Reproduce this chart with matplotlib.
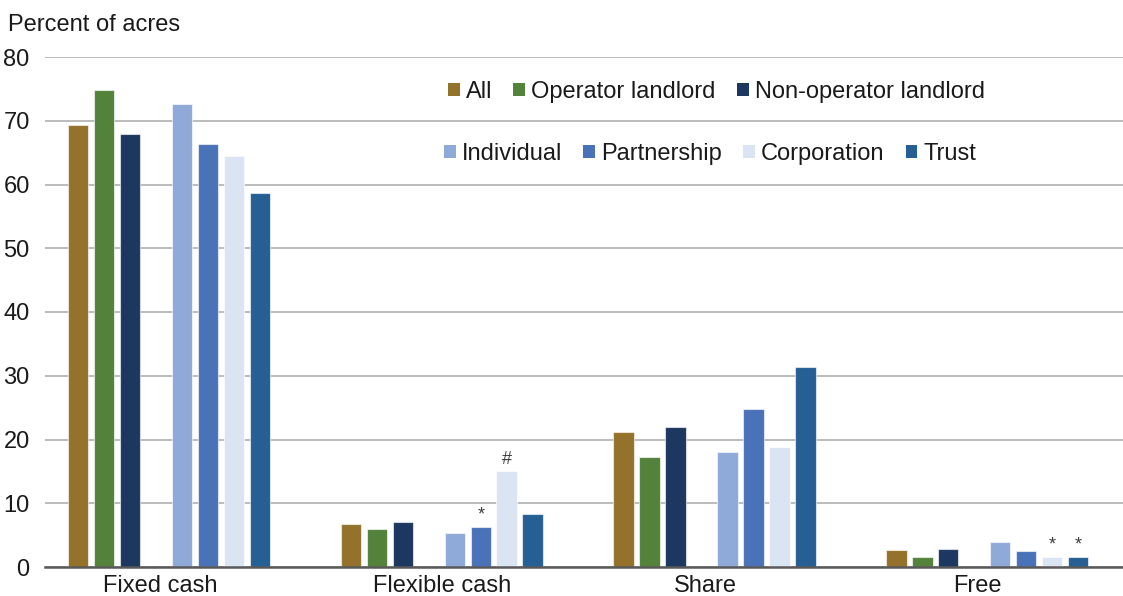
import matplotlib
matplotlib.use("Agg")
import matplotlib.pyplot as plt
import numpy as np

plt.rcParams['font.family'] = ['Liberation Sans', 'DejaVu Sans']

# data
categories = ['Fixed cash', 'Flexible cash', 'Share', 'Free']
series_names = ['All', 'Operator landlord', 'Non-operator landlord',
                'Individual', 'Partnership', 'Corporation', 'Trust']
all_vals = [69.3, 6.7, 21.1, 2.6]
operator_vals = [74.9, 5.9, 17.3, 1.6]
nonoperator_vals = [68.0, 7.0, 22.0, 2.9]
individual_vals = [72.6, 5.3, 18.0, 3.9]
partnership_vals = [66.4, 6.2, 24.8, 2.5]
corporation_vals = [64.5, 15.0, 18.9, 1.5]
trust_vals = [58.7, 8.3, 31.3, 1.5]
# footnote marks: (category index, series index, symbol)
marks = [(1, 4, '*'), (1, 5, '#'), (3, 5, '*'), (3, 6, '*')]

values = [all_vals, operator_vals, nonoperator_vals, individual_vals,
          partnership_vals, corporation_vals, trust_vals]
colors = ['#94722b', '#53823a', '#1c3760', '#8faad8', '#4a72b8', '#dae4f2', '#255f94']
slots = [0, 1, 2, 4, 5, 6, 7]   # slot 3 left empty
group_step = 10.5
bar_w = 0.79
label_shift = [-0.36, 0.0, -0.36, -0.36]  # category labels sit a bit off centre

W, H = 1123, 596
fig = plt.figure(figsize=(W / 100, H / 100), dpi=100)
ax = fig.add_axes([45 / W, 1 - 567 / H, 1 - 45 / W, (567 - 57) / H])

centers = np.arange(len(categories)) * group_step
bars = []
for vals, col, s in zip(values, colors, slots):
    b = ax.bar(centers + s - 3.5, vals, width=bar_w, color=col,
               edgecolor=(1, 1, 1, 0.6), linewidth=0.8, zorder=3)
    bars.append(b)

for ci, si, sym in marks:
    x = centers[ci] + slots[si] - 3.5
    y = values[si][ci]
    ax.text(x, y + 0.6, sym, ha='center', va='bottom', fontsize=13, color='#404040', zorder=4)

ax.set_ylim(0, 80)
ax.set_xlim(-4.78, 36.73)
ax.set_yticks(range(0, 81, 10))
ax.set_xticks(centers + np.array(label_shift))
ax.set_xticklabels(categories)
ax.tick_params(axis='both', length=0, labelsize=17, colors='#1a1a1a')
ax.tick_params(axis='y', pad=11)
ax.tick_params(axis='x', pad=6)
ax.grid(axis='y', color='#b0b0b0', linewidth=1.2, zorder=0)
ax.set_axisbelow(True)
for side in ['left', 'right', 'top']:
    ax.spines[side].set_visible(False)
ax.spines['bottom'].set_color('#595959')
ax.spines['bottom'].set_linewidth(1.8)
ax.spines['bottom'].set_zorder(5)

fig.text(8 / W, 1 - 31 / H, 'Percent of acres', fontsize=17, color='#1a1a1a', va='baseline')

leg_kw = dict(frameon=False, fontsize=17, handlelength=0.5, handleheight=0.5,
              handletextpad=0.25, columnspacing=0.9, borderpad=0, borderaxespad=0,
              loc='center left', labelcolor='#1a1a1a')
leg1 = fig.legend(bars[:3], series_names[:3], ncol=3,
                  bbox_to_anchor=(448 / W, 1 - 92 / H), **leg_kw)
leg2 = fig.legend(bars[3:], series_names[3:], ncol=4,
                  bbox_to_anchor=(444 / W, 1 - 154 / H), **leg_kw)
for leg in (leg1, leg2):
    for h in leg.legend_handles:
        h.set_edgecolor('none')

fig.savefig('out.png', dpi=100)
